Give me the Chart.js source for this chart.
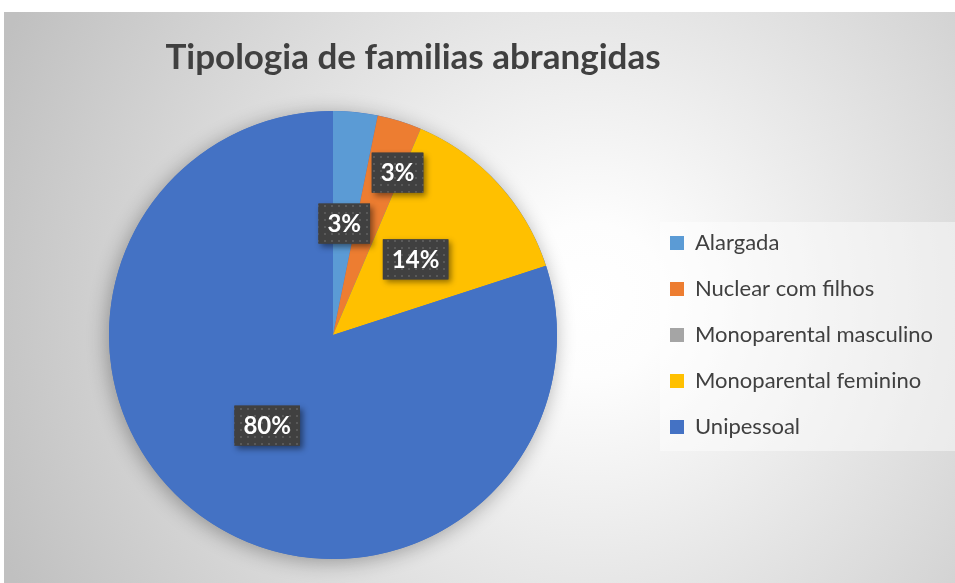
<!DOCTYPE html>
<html>
<head>
<meta charset="utf-8">
<script src="https://cdn.jsdelivr.net/npm/chart.js@4.4.1/dist/chart.umd.min.js"></script>
<style>
  html, body { margin: 0; padding: 0; background: #fff; overflow: hidden; }
  #wrap { width: 955px; height: 583px; position: relative; }
</style>
</head>
<body>
<div id="wrap"><canvas id="grafico"></canvas></div>
<script>
// Dados
const categorias = ['Alargada', 'Nuclear com filhos', 'Monoparental masculino', 'Monoparental feminino', 'Unipessoal'];
const percentagens = [3.2, 3.2, 0, 13.6, 80.0];
const cores = ['#5b9bd5', '#ed7d31', '#a5a5a5', '#ffc000', '#4472c4'];
const titulo = 'Tipologia de familias abrangidas';

// posição dos rótulos (fração do raio e ajuste do ângulo em graus)
const raioRotulo = [0.5, 0.78, 0.5, 0.5, 0.5];
const ajusteAngulo = [0, 4.4, 0, 0, 0];

const FONTE = 'Lato, "Open Sans", sans-serif';

// fundo com gradiente radial + caixa da legenda
const fundo = {
  id: 'fundo',
  beforeDraw(chart) {
    const ctx = chart.ctx, W = chart.width, H = chart.height;
    ctx.save();
    ctx.fillStyle = '#ffffff';
    ctx.fillRect(0, 0, W, H);
    const g = ctx.createRadialGradient(590, 300, 0, 590, 300, 640);
    g.addColorStop(0, '#ffffff');
    g.addColorStop(0.12, '#fdfdfd');
    g.addColorStop(1, '#c0c0c0');
    ctx.fillStyle = g;
    ctx.fillRect(4, 12, W - 4, H - 12);
    const lg = chart.legend;
    ctx.fillStyle = 'rgba(255,255,255,0.45)';
    ctx.fillRect(lg.left + 14, lg.top + 14, 295, 229);
    ctx.restore();
  }
};

// reposiciona título e legenda
const posicoes = {
  id: 'posicoes',
  afterLayout(chart) {
    const lg = chart.legend;
    const w = lg.width, h = lg.height;
    lg.left = 646; lg.top = 208;
    lg.right = lg.left + w; lg.bottom = lg.top + h;
    const t = chart.titleBlock;
    t.left = 0; t.right = 826;
  }
};

// sombra da tarte
const sombra = {
  id: 'sombra',
  beforeDatasetsDraw(chart) {
    const a = chart.getDatasetMeta(0).data[0];
    if (!a) return;
    const ctx = chart.ctx;
    ctx.save();
    ctx.shadowColor = 'rgba(0,0,0,0.32)';
    ctx.shadowBlur = 20;
    ctx.shadowOffsetX = -2;
    ctx.shadowOffsetY = 3;
    ctx.beginPath();
    ctx.arc(a.x, a.y, a.outerRadius, 0, 2 * Math.PI);
    ctx.fillStyle = '#4472c4';
    ctx.fill();
    ctx.restore();
  }
};

// padrão pontilhado dos rótulos
const padraoCanvas = document.createElement('canvas');
padraoCanvas.width = 7; padraoCanvas.height = 7;
(function () {
  const p = padraoCanvas.getContext('2d');
  p.fillStyle = '#404040';
  p.fillRect(0, 0, 7, 7);
  p.fillStyle = '#595959';
  p.fillRect(2, 2, 2, 2);
})();

// rótulos de dados
const rotulos = {
  id: 'rotulos',
  afterDatasetsDraw(chart) {
    const ctx = chart.ctx;
    const meta = chart.getDatasetMeta(0);
    meta.data.forEach((arc, i) => {
      const v = percentagens[i];
      if (!v) return;
      const txt = Math.round(v) + '%';
      const mid = (arc.startAngle + arc.endAngle) / 2 + ajusteAngulo[i] * Math.PI / 180;
      const r = arc.outerRadius * raioRotulo[i];
      const x = arc.x + Math.cos(mid) * r;
      const y = arc.y + Math.sin(mid) * r;
      ctx.save();
      ctx.font = 'bold 24px ' + FONTE;
      const tw = ctx.measureText(txt).width;
      const bw = tw + 18, bh = 40;
      ctx.shadowColor = 'rgba(0,0,0,0.45)';
      ctx.shadowBlur = 6;
      ctx.shadowOffsetX = 3;
      ctx.shadowOffsetY = 3;
      ctx.fillStyle = '#404040';
      ctx.fillRect(x - bw / 2, y - bh / 2, bw, bh);
      ctx.shadowColor = 'transparent';
      ctx.fillStyle = ctx.createPattern(padraoCanvas, 'repeat');
      ctx.fillRect(x - bw / 2, y - bh / 2, bw, bh);
      ctx.fillStyle = '#ffffff';
      ctx.textAlign = 'center';
      ctx.textBaseline = 'middle';
      ctx.fillText(txt, x, y + 1);
      ctx.restore();
    });
  }
};

new Chart(document.getElementById('grafico'), {
  type: 'pie',
  data: {
    labels: categorias,
    datasets: [{
      data: percentagens,
      backgroundColor: cores,
      borderWidth: 0
    }]
  },
  options: {
    responsive: true,
    maintainAspectRatio: false,
    animation: false,
    layout: { padding: { left: 0, right: 289, top: 12, bottom: 24 } },
    plugins: {
      title: {
        display: true,
        text: titulo,
        color: '#404040',
        font: { family: FONTE, size: 35, weight: 'bold' },
        padding: { top: 25, bottom: 32 }
      },
      legend: {
        position: 'chartArea',
        align: 'start',
        labels: {
          boxWidth: 14,
          boxHeight: 14,
          padding: 24,
          color: '#404040',
          font: { family: FONTE, size: 22 }
        }
      },
      tooltip: { enabled: false }
    }
  },
  plugins: [fundo, posicoes, sombra, rotulos]
});
</script>
</body>
</html>
